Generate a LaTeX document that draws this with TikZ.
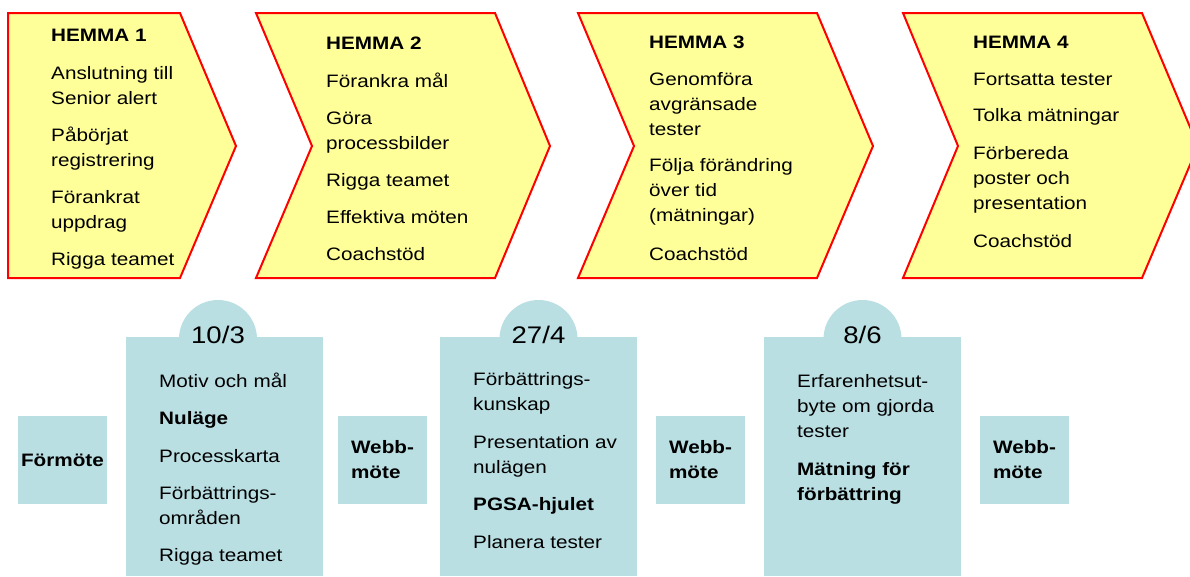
\documentclass[tikz,border=0pt]{standalone}
\usepackage{fontspec}
\setmainfont{Liberation Sans}
\newfontfamily\wide[FakeStretch=1.15]{Liberation Sans}
\definecolor{chevfill}{RGB}{255,255,153}
\definecolor{chevline}{RGB}{255,0,0}
\definecolor{meetfill}{RGB}{185,223,227}
% strut that fixes the top of the first line of a text block
\newcommand\firstline{\rule{0pt}{17pt}}
\begin{document}
\begin{tikzpicture}[x=1pt,y=-1pt,
  chev/.style={draw=chevline, line width=2pt, fill=chevfill, line join=miter},
  body/.style={font=\wide\fontsize{18}{25}\selectfont, align=left, anchor=north west, inner sep=0pt},
  meet/.style={fill=meetfill},
  smallmeet/.style={fill=meetfill, minimum width=89pt, minimum height=88pt, inner sep=0pt,
    align=left, font=\wide\bfseries\fontsize{18}{25}\selectfont},
  datelabel/.style={font=\wide\fontsize{24}{28}\selectfont, anchor=base, inner sep=0pt}]
\useasboundingbox (0,0) rectangle (1190,576);

% ---- home-work phases (chevrons) ----
\draw[chev] (8,13) -- (180,13) -- (236,146) -- (180,278) -- (8,278) -- cycle;
\draw[chev] (256,13) -- (495,13) -- (550,146) -- (495,278) -- (256,278) -- (312,146) -- cycle;
\draw[chev] (578,13) -- (817,13) -- (873,146) -- (817,278) -- (578,278) -- (634,146) -- cycle;
\draw[chev] (903,13) -- (1142,13) -- (1198,146) -- (1142,278) -- (903,278) -- (958,146) -- cycle;

\node[body] (h1) at (51,24) {\firstline\textbf{HEMMA 1}\\[13pt]
  Anslutning till\\ Senior alert\\[12pt] Påbörjat\\ registrering\\[12pt]
  Förankrat\\ uppdrag\\[12pt] Rigga teamet};
\node[body] (h2) at (326,32) {\firstline\textbf{HEMMA 2}\\[13pt]
  Förankra mål\\[12pt] Göra\\ processbilder\\[12pt] Rigga teamet\\[12pt]
  Effektiva möten\\[12pt] Coachstöd};
\node[body] (h3) at (649,31) {\firstline\textbf{HEMMA 3}\\[12pt]
  Genomföra\\ avgränsade\\ tester\\[11pt] Följa förändring\\ över tid\\ (mätningar)\\[14pt]
  Coachstöd};
\node[body] (h4) at (973,31) {\firstline\textbf{HEMMA 4}\\[12pt]
  Fortsatta tester\\[11pt] Tolka mätningar\\[13pt] Förbereda\\ poster och\\ presentation\\[13pt]
  Coachstöd};

% ---- meetings: tabbed boxes with dates ----
\fill[meet] (126,337) rectangle (323,576);
\fill[meet] (218,339) circle[radius=39pt];
\node[datelabel] (d1) at (218,343) {10/3};
\node[body] (m1) at (159,370) {\firstline Motiv och mål\\[12pt] \textbf{Nuläge}\\[13pt]
  Processkarta\\[12pt] Förbättrings-\\ områden\\[12pt] Rigga teamet};

\fill[meet] (440,337) rectangle (637,576);
\fill[meet] (538.5,339) circle[radius=39pt];
\node[datelabel] (d2) at (538.5,343) {27/4};
\node[body] (m2) at (473,368) {\firstline Förbättrings-\\ kunskap\\[13pt]
  Presentation av\\ nulägen\\[12pt] \textbf{PGSA-hjulet}\\[13pt] Planera tester};

\fill[meet] (764,337) rectangle (961,576);
\fill[meet] (862.5,339) circle[radius=39pt];
\node[datelabel] (d3) at (862.5,343) {8/6};
\node[body] (m3) at (797,370) {\firstline Erfarenhetsut-\\ byte om gjorda\\ tester\\[13pt]
  \textbf{Mätning för}\\ \textbf{förbättring}};

% ---- short meetings ----
\node[smallmeet] (f0) at (62.5,460) {Förmöte};
\node[smallmeet] (w1) at (382.5,460) {Webb-\\möte};
\node[smallmeet] (w2) at (700.5,460) {Webb-\\möte};
\node[smallmeet] (w3) at (1024.5,460) {Webb-\\möte};
\end{tikzpicture}
\end{document}
